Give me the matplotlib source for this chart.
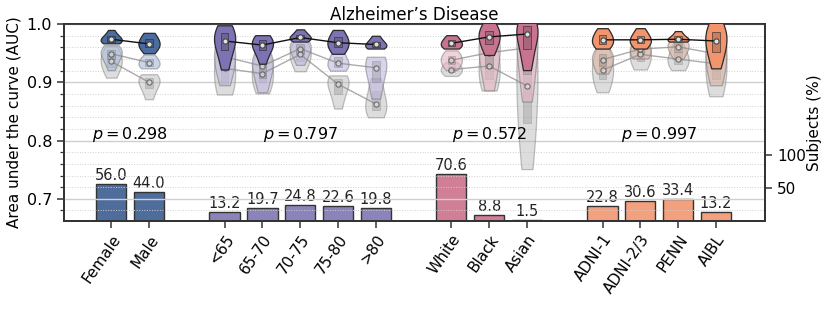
import numpy as np
import matplotlib
matplotlib.use("Agg")
import matplotlib.pyplot as plt
from matplotlib.ticker import MultipleLocator

# ---------------- data ----------------
sex_labels = ["Female", "Male"]
age_labels = ["<65", "65-70", "70-75", "75-80", ">80"]
race_labels = ["White", "Black", "Asian"]
site_labels = ["ADNI-1", "ADNI-2/3", "PENN", "AIBL"]

sex_subjects = [56.0, 44.0]
age_subjects = [13.2, 19.7, 24.8, 22.6, 19.8]
race_subjects = [70.6, 8.8, 1.5]
site_subjects = [22.8, 30.6, 33.4, 13.2]

p_values = [0.298, 0.797, 0.572, 0.997]

# AUC samples per category (main model, second model, third model)
sex_main = [[0.967, 0.968, 0.970, 0.972, 0.974, 0.976, 0.979, 0.983, 0.990],
            [0.950, 0.956, 0.961, 0.964, 0.966, 0.970, 0.975, 0.980, 0.985]]
sex_mid = [[0.921, 0.932, 0.940, 0.946, 0.949, 0.952, 0.956, 0.960, 0.964],
           [0.924, 0.926, 0.928, 0.931, 0.934, 0.937, 0.940, 0.944, 0.948]]
sex_gray = [[0.908, 0.918, 0.926, 0.932, 0.936, 0.942, 0.948, 0.955, 0.962],
            [0.871, 0.880, 0.890, 0.896, 0.900, 0.904, 0.907, 0.910, 0.914]]

age_main = [[0.922, 0.940, 0.955, 0.965, 0.971, 0.977, 0.984, 0.990, 0.998],
            [0.932, 0.945, 0.955, 0.960, 0.964, 0.968, 0.972, 0.976, 0.981],
            [0.970, 0.972, 0.974, 0.976, 0.977, 0.979, 0.982, 0.986, 0.991],
            [0.949, 0.955, 0.960, 0.965, 0.968, 0.972, 0.977, 0.983, 0.990],
            [0.958, 0.959, 0.961, 0.963, 0.965, 0.967, 0.970, 0.975, 0.980]]
age_mid = [[0.895, 0.912, 0.925, 0.936, 0.944, 0.952, 0.962, 0.975, 0.990],
           [0.883, 0.895, 0.908, 0.920, 0.928, 0.934, 0.940, 0.946, 0.952],
           [0.930, 0.940, 0.948, 0.954, 0.958, 0.962, 0.966, 0.970, 0.975],
           [0.920, 0.924, 0.927, 0.930, 0.933, 0.938, 0.944, 0.951, 0.960],
           [0.872, 0.885, 0.900, 0.915, 0.925, 0.932, 0.937, 0.941, 0.944]]
age_gray = [[0.879, 0.888, 0.898, 0.910, 0.924, 0.938, 0.952, 0.968, 0.985],
            [0.881, 0.890, 0.900, 0.908, 0.915, 0.925, 0.936, 0.946, 0.955],
            [0.919, 0.928, 0.936, 0.943, 0.948, 0.953, 0.959, 0.966, 0.974],
            [0.855, 0.868, 0.880, 0.890, 0.897, 0.902, 0.906, 0.909, 0.912],
            [0.840, 0.846, 0.852, 0.858, 0.863, 0.872, 0.885, 0.898, 0.907]]

race_main = [[0.958, 0.960, 0.962, 0.965, 0.967, 0.970, 0.973, 0.977, 0.981],
             [0.947, 0.958, 0.966, 0.973, 0.978, 0.983, 0.989, 0.995, 1.002],
             [0.921, 0.940, 0.958, 0.972, 0.983, 0.990, 0.996, 1.002, 1.008]]
race_mid = [[0.921, 0.927, 0.931, 0.935, 0.938, 0.942, 0.946, 0.950, 0.955],
            [0.886, 0.905, 0.925, 0.940, 0.951, 0.962, 0.972, 0.983, 0.993],
            [0.867, 0.890, 0.915, 0.940, 0.959, 0.972, 0.985, 0.995, 1.005]]
race_gray = [[0.911, 0.914, 0.917, 0.920, 0.922, 0.925, 0.928, 0.931, 0.935],
             [0.886, 0.895, 0.905, 0.917, 0.928, 0.940, 0.955, 0.972, 0.990],
             [0.751, 0.790, 0.830, 0.865, 0.894, 0.925, 0.955, 0.980, 1.005]]

site_main = [[0.958, 0.962, 0.966, 0.970, 0.973, 0.977, 0.982, 0.987, 0.993],
             [0.958, 0.963, 0.967, 0.970, 0.973, 0.976, 0.980, 0.986, 0.993],
             [0.970, 0.971, 0.972, 0.973, 0.974, 0.976, 0.979, 0.983, 0.988],
             [0.924, 0.940, 0.952, 0.963, 0.971, 0.978, 0.986, 0.994, 1.004]]
site_mid = [[0.915, 0.922, 0.928, 0.934, 0.939, 0.944, 0.948, 0.953, 0.958],
            [0.941, 0.945, 0.949, 0.953, 0.957, 0.962, 0.968, 0.977, 0.990],
            [0.940, 0.946, 0.952, 0.957, 0.961, 0.964, 0.967, 0.971, 0.975],
            [0.895, 0.910, 0.925, 0.938, 0.949, 0.960, 0.972, 0.985, 1.000]]
site_gray = [[0.883, 0.895, 0.905, 0.914, 0.921, 0.930, 0.940, 0.950, 0.960],
             [0.922, 0.930, 0.937, 0.943, 0.948, 0.954, 0.962, 0.972, 0.985],
             [0.921, 0.927, 0.932, 0.936, 0.940, 0.945, 0.952, 0.960, 0.970],
             [0.876, 0.890, 0.905, 0.920, 0.932, 0.945, 0.960, 0.978, 1.000]]

# ---------------- styling ----------------
groups = [
    dict(labels=sex_labels, subj=sex_subjects, main=sex_main, mid=sex_mid, gray=sex_gray,
         dark="#4c6c9f", light="#a9bad7", bar="#4f6d9b"),
    dict(labels=age_labels, subj=age_subjects, main=age_main, mid=age_mid, gray=age_gray,
         dark="#7d72b3", light="#c0b8e0", bar="#8b84bb"),
    dict(labels=race_labels, subj=race_subjects, main=race_main, mid=race_mid, gray=race_gray,
         dark="#c87490", light="#e7b5c2", bar="#d07f96"),
    dict(labels=site_labels, subj=site_subjects, main=site_main, mid=site_mid, gray=site_gray,
         dark="#f2946c", light="#dcb3a2", bar="#f2a07e"),
]

fig = plt.figure(figsize=(8.31, 3.09), dpi=100)
ax = fig.add_axes([0.077, 0.285, 0.8436, 0.637])
ax2 = ax.twinx()

ax.set_ylim(0.662, 1.0)
ax2.set_ylim(0, 298)
ax.set_xlim(-1.25, 17.3)

# grid
ax.yaxis.set_major_locator(MultipleLocator(0.1))
ax.yaxis.set_minor_locator(MultipleLocator(0.02))
ax.grid(axis="y", which="major", color="#cfcfcf", lw=1.0, zorder=0)
ax.grid(axis="y", which="minor", color="#cfcfcf", lw=0.7, ls=":", zorder=0)
ax.set_axisbelow(True)

ticks, ticklabels = [], []
start = 0
width = 0.56


def draw_violin(axis, pos, data, face, alpha, edge, ealpha, z):
    parts = axis.violinplot([data], positions=[pos], widths=width, showextrema=False,
                            bw_method=0.8)
    for b in parts["bodies"]:
        b.set_alpha(None)
        b.set_facecolor(matplotlib.colors.to_rgba(face, alpha))
        b.set_edgecolor(matplotlib.colors.to_rgba(edge, ealpha))
        b.set_linewidth(0.9)
        b.set_zorder(z)
    q1, q3 = np.percentile(data, [25, 75])
    axis.bar(pos, q3 - q1, bottom=q1, width=0.2,
             color=matplotlib.colors.to_rgba(edge, 0.2),
             edgecolor=matplotlib.colors.to_rgba(edge, ealpha * 0.7), lw=0.6, zorder=z + 0.1)


for gi, g in enumerate(groups):
    n = len(g["labels"])
    pos = np.arange(start, start + n)
    ticks.extend(pos)
    ticklabels.extend(g["labels"])
    for i in range(n):
        draw_violin(ax, pos[i], g["gray"][i], "#bdbdbd", 0.5, "#555555", 0.35, 3)
        draw_violin(ax, pos[i], g["mid"][i], g["light"], 0.6, "#555555", 0.4, 4)
        draw_violin(ax, pos[i], g["main"][i], g["dark"], 1.0, "#2a2a2a", 1.0, 6)
    for key, lc, la, z in [("gray", "#888888", 0.7, 5), ("mid", "#888888", 0.7, 5.5),
                           ("main", "#111111", 1.0, 8)]:
        meds = [np.median(d) for d in g[key]]
        ax.plot(pos, meds, color=lc, alpha=la, lw=1.0, zorder=z)
        ax.scatter(pos, meds, s=14, facecolor="#e0e0e0", edgecolor="#444444",
                   alpha=1.0 if key == "main" else 0.7, lw=0.8, zorder=z + 0.2)
    # bars
    bars = ax2.bar(pos, g["subj"], width=0.8, color=g["bar"], edgecolor="#333333", lw=1.0,
                   zorder=2)
    for b, v in zip(bars, g["subj"]):
        ax2.text(b.get_x() + b.get_width() / 2, v + 1.5, f"{v:.1f}", ha="center", va="bottom",
                 fontsize=10.5, color="#222222")
    ax.text(pos.mean(), 0.811, f"$p = {p_values[gi]:.3f}$", ha="center", va="center",
            fontsize=11.5, zorder=10)
    start += n + 1

ax.set_xticks(ticks)
ax.set_xticklabels(ticklabels, rotation=55, ha="right", rotation_mode="anchor", fontsize=11)
ax.set_ylabel("Area under the curve (AUC)", fontsize=11)
ax.set_title("Alzheimer’s Disease", fontsize=12, pad=3)
ax.tick_params(axis="y", which="major", labelsize=11.5, length=5, width=1.1, color="#333333")
ax.tick_params(axis="y", which="minor", length=3, width=0.9, color="#333333")
ax.tick_params(axis="x", length=5, width=1.1, color="#333333", pad=3)

ax2.set_yticks([50, 100])
ax2.tick_params(axis="y", labelsize=11, length=5, width=1.1, color="#333333")
ax2.set_ylabel("Subjects (%)", fontsize=11)
ax2.yaxis.set_label_coords(1.06, 0.5)

# draw order: twin axis (bars) under violins
ax.set_zorder(ax2.get_zorder() + 1)
ax.patch.set_visible(False)

for a in (ax, ax2):
    for s in a.spines.values():
        s.set_color("#333333")
        s.set_linewidth(1.3)

fig.savefig("out.png", dpi=100)
